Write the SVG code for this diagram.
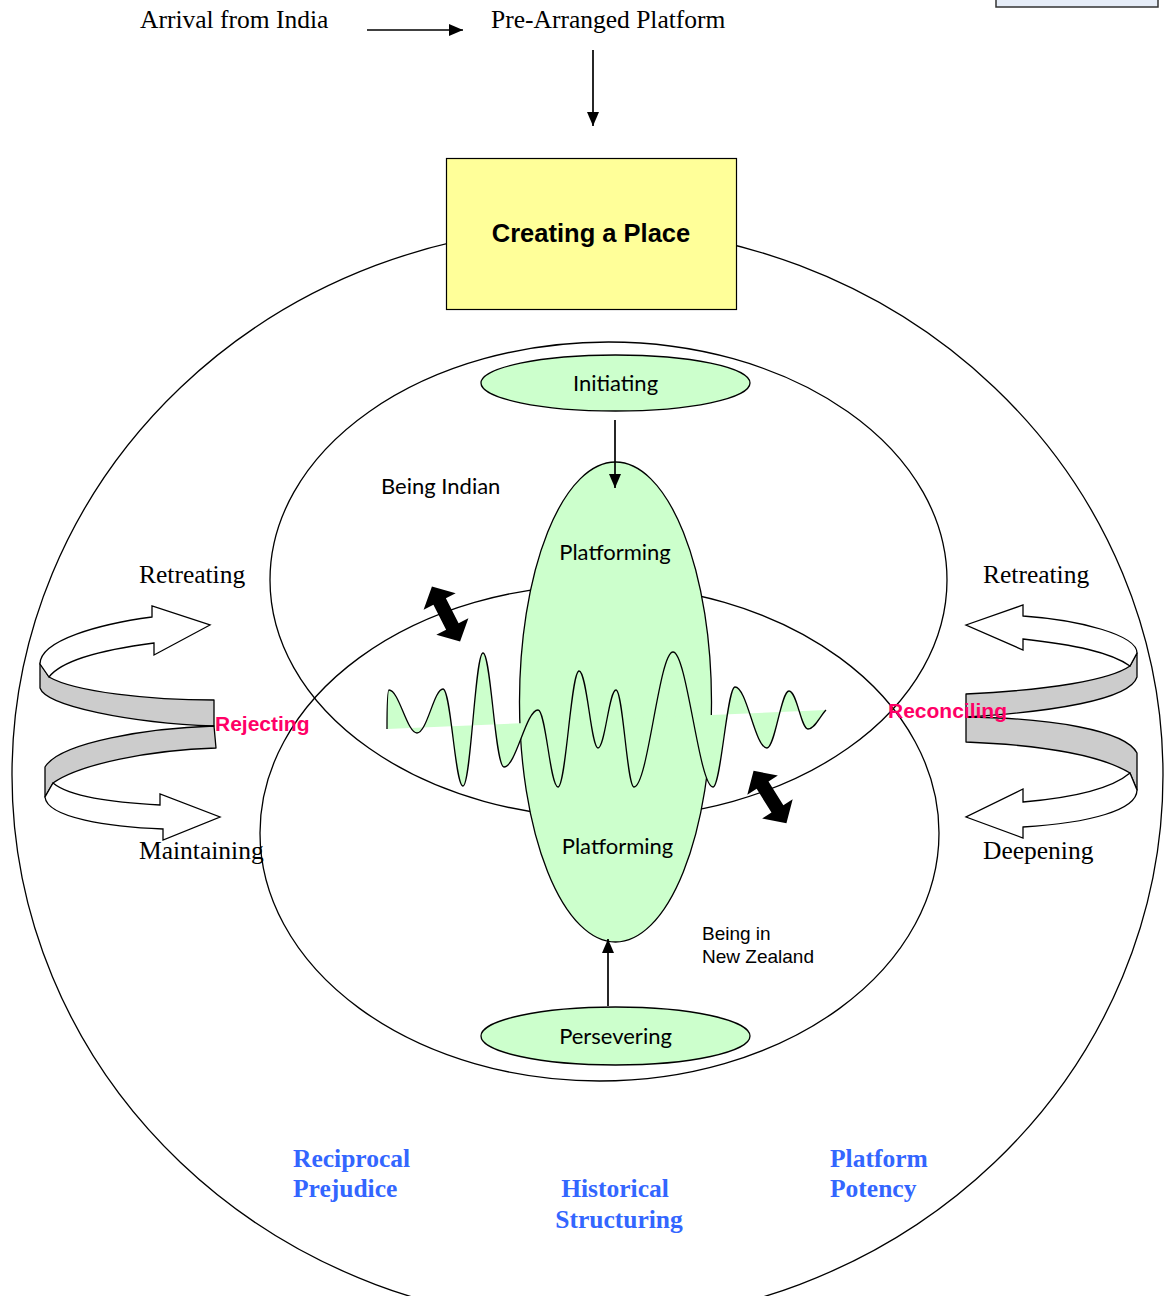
<svg xmlns="http://www.w3.org/2000/svg" width="1168" height="1296" viewBox="0 0 1168 1296">
<style>
.ln{fill:none;stroke:#000;stroke-width:1.3}
.gr{fill:#ccffcc;stroke:#000;stroke-width:1.3}
.conn{stroke:#000;stroke-width:1.7;fill:none}
.tr{font-family:"Liberation Serif","Times New Roman",serif;font-size:25.5px;fill:#000}
.bl{font-family:"Liberation Serif","Times New Roman",serif;font-size:25.5px;font-weight:bold;fill:#3366ff}
.ca{font-family:Lato,"Open Sans",sans-serif;font-size:22px;fill:#000}
.ar{font-family:"Liberation Sans",Arial,sans-serif;font-size:19px;fill:#000}
.mg{font-family:"Liberation Sans",Arial,sans-serif;font-size:21px;font-weight:bold;fill:#ff0066}
.band{fill:#cccccc;stroke:#000;stroke-width:1.3;stroke-linejoin:round}
.wa{fill:#fff;stroke:#000;stroke-width:1.3;stroke-linejoin:miter}
</style>
<defs>
<marker id="ah" markerUnits="userSpaceOnUse" markerWidth="14" markerHeight="12" refX="14" refY="6" orient="auto">
<path d="M0,0 L14,6 L0,12 Z" fill="#000"/>
</marker>
<path id="dbl" d="M0,-31 L18,-14 L7,-14 L7,14 L18,14 L0,31 L-18,14 L-7,14 L-7,-14 L-18,-14 Z" fill="#000"/>
</defs>

<rect x="996" y="-6" width="162" height="13" fill="#e6edf8" stroke="#333" stroke-width="1.5"/>

<g id="outer">
<ellipse class="ln" cx="587.5" cy="775" rx="575.5" ry="548"/>
</g>

<g id="being-indian">
<ellipse class="ln" cx="608.5" cy="580" rx="338.5" ry="238"/>
</g>
<g id="being-nz">
<ellipse class="ln" cx="599.5" cy="833" rx="339.5" ry="248"/>
</g>

<g id="creating-place">
<rect x="446.5" y="158.5" width="290" height="151" fill="#ffff99" stroke="#000" stroke-width="1.2"/>
<text x="591" y="242" text-anchor="middle" font-family="Liberation Sans, Arial, sans-serif" font-size="25.5" font-weight="bold">Creating a Place</text>
</g>

<g id="platforming">
<ellipse class="gr" cx="615.5" cy="702" rx="96" ry="240"/>
</g>

<g id="wave">
<path fill="#ccffcc" stroke="none" d="M387,729 C387,712 387,690 389,690 C399,690 407,733 417,733 C427,733 434,689 443,689 C451,689 455,786 463,786 C471,786 475,653 483,653 C491,653 495,767 504,767 C516,767 526,710 538,710 C546,710 550,787 558,787 C566,787 571,671 579,671 C587,671 591,748 598,748 C605,748 609,690 616,690 C623,690 627,787 634,787 C648,787 659,652 673,652 C687,652 699,787 713,787 C721,787 727,687 735,687 C747,687 755,748 767,748 C775,748 781,691 789,691 C797,691 801,729 808,729 C815,729 820,716 826,710 Z"/>
<path class="ln" d="M387,729 C387,712 387,690 389,690 C399,690 407,733 417,733 C427,733 434,689 443,689 C451,689 455,786 463,786 C471,786 475,653 483,653 C491,653 495,767 504,767 C516,767 526,710 538,710 C546,710 550,787 558,787 C566,787 571,671 579,671 C587,671 591,748 598,748 C605,748 609,690 616,690 C623,690 627,787 634,787 C648,787 659,652 673,652 C687,652 699,787 713,787 C721,787 727,687 735,687 C747,687 755,748 767,748 C775,748 781,691 789,691 C797,691 801,729 808,729 C815,729 820,716 826,710"/>
</g>

<g id="initiating">
<ellipse class="gr" cx="615.5" cy="383" rx="134.5" ry="28"/>
<text class="ca" x="615.5" y="391" text-anchor="middle">Initiating</text>
</g>
<g id="persevering">
<ellipse class="gr" cx="615.5" cy="1036" rx="134.5" ry="29"/>
<text class="ca" x="615.5" y="1044" text-anchor="middle">Persevering</text>
</g>

<g id="left-spiral">
<path class="band" d="M40,663 L40,688 C46,706 130,723 214,726 L214,700 C150,700 75,692 49,677 Z"/>
<path class="wa" d="M40,664 C40,640 100,624 152,617 L152,606 L210,625 L154,655 L154,643 C100,650 62,660 49,677 Z"/>
<path class="band" d="M214,726 C150,728 60,742 45,767 L45,797 L53,783 C80,764 150,750 216,748 Z"/>
<path class="wa" d="M45,797 C47,818 110,827 163,829 L163,840 L220,817 L160,794 L160,805 C110,802 70,797 53,783 Z"/>
</g>

<g id="right-spiral">
<path class="band" d="M1137,653 L1137,677 C1130,700 1050,712 966,717 L966,694 C1050,690 1110,680 1130,666 Z"/>
<path class="wa" d="M1137,653 C1137,635 1080,620 1023,616 L1023,605 L966,625 L1023,650 L1023,639 C1075,645 1110,652 1130,666 Z"/>
<path class="band" d="M966,717 C1050,718 1125,730 1137,753 L1137,790 L1130,773 C1100,755 1040,745 966,742 Z"/>
<path class="wa" d="M1130,773 C1110,790 1070,798 1023,802 L1023,789 L966,817 L1023,838 L1023,827 C1090,823 1137,810 1137,790 Z"/>
</g>

<g id="connectors">
<line class="conn" x1="367" y1="30" x2="463" y2="30" marker-end="url(#ah)"/>
<line class="conn" x1="593" y1="50" x2="593" y2="126" marker-end="url(#ah)"/>
<line class="conn" x1="615" y1="420" x2="615" y2="488" marker-end="url(#ah)"/>
<line class="conn" x1="608" y1="1006" x2="608" y2="939" marker-end="url(#ah)"/>
<use href="#dbl" transform="translate(446,614) rotate(-27)"/>
<use href="#dbl" transform="translate(770,797) rotate(-32)"/>
</g>

<g id="labels">
<text class="tr" x="140" y="28">Arrival from India</text>
<text class="tr" x="491" y="28">Pre-Arranged Platform</text>
<text class="tr" x="139" y="583">Retreating</text>
<text class="tr" x="139" y="859">Maintaining</text>
<text class="tr" x="983" y="583">Retreating</text>
<text class="tr" x="983" y="859">Deepening</text>
<text class="ca" x="381" y="494">Being Indian</text>
<text class="ca" x="615" y="560" text-anchor="middle">Platforming</text>
<text class="ca" x="617.5" y="854" text-anchor="middle">Platforming</text>
<text class="ar" x="702" y="940">Being in</text>
<text class="ar" x="702" y="963">New Zealand</text>
<text class="mg" x="215" y="731">Rejecting</text>
<text class="mg" x="888" y="718">Reconciling</text>
<text class="bl" x="293" y="1167">Reciprocal</text>
<text class="bl" x="293" y="1197">Prejudice</text>
<text class="bl" x="615" y="1197" text-anchor="middle">Historical</text>
<text class="bl" x="619" y="1228" text-anchor="middle">Structuring</text>
<text class="bl" x="830" y="1167">Platform</text>
<text class="bl" x="830" y="1197">Potency</text>
</g>
</svg>
